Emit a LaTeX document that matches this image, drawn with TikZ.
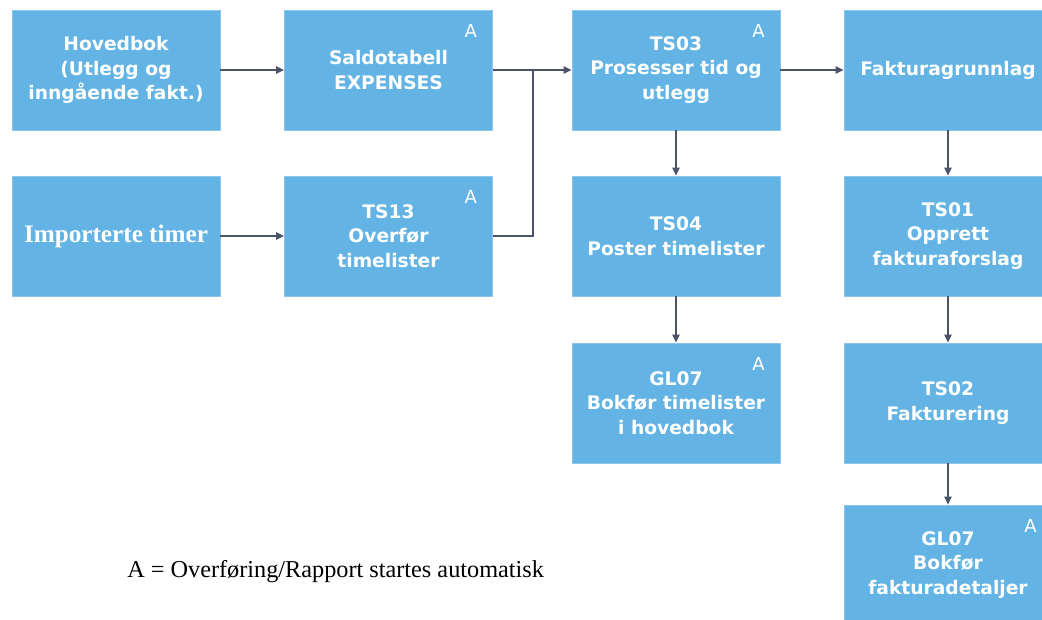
\documentclass[tikz,border=0pt]{standalone}
\usepackage{fontspec}
\setmainfont{DejaVu Sans}
\newfontfamily\timesfont{Liberation Serif}
\usetikzlibrary{arrows.meta}
\definecolor{boxblue}{RGB}{99,180,228}
\definecolor{linkgray}{RGB}{74,84,102}

\begin{document}
\begin{tikzpicture}[x=0.75pt,y=-0.75pt,
  proc/.style={rectangle, fill=boxblue, draw=boxblue!75!white, line width=0.6pt,
    minimum width=156pt, minimum height=90pt, inner sep=0pt, align=center,
    text=white, font=\fontsize{14}{18.4}\selectfont\bfseries},
  autotag/.style={text=white, inner sep=0pt, font=\fontsize{13.5}{15}\selectfont},
  link/.style={draw=linkgray, line width=1.1pt},
  flow/.style={link, -{Triangle[length=6pt,width=5.5pt]}}]

\useasboundingbox (0,0) rectangle (1042,619);
\clip (0,0) rectangle (1042,619);

% column 1
\node[proc] (hov) at (116,70) {Hovedbok\\(Utlegg og\\inngående fakt.)};
\node[proc, font=\timesfont\bfseries\fontsize{18.9}{22}\selectfont] (imp) at (116,236) {Importerte timer};

% column 2
\node[proc] (sal) at (388.5,70) {Saldotabell\\EXPENSES};
\node[proc] (ts13) at (388.5,236) {TS13\\Overfør\\timelister};

% column 3
\node[proc] (ts03) at (676,70) {TS03\\Prosesser tid og\\utlegg};
\node[proc] (ts04) at (676,236) {TS04\\Poster timelister};
\node[proc] (gl07a) at (676,403) {GL07\\Bokfør timelister\\i hovedbok};

% column 4
\node[proc] (fak) at (948,70) {Fakturagrunnlag};
\node[proc] (ts01) at (948,236) {TS01\\Opprett\\fakturaforslag};
\node[proc] (ts02) at (948,403) {TS02\\Fakturering};
\node[proc] (gl07b) at (948,565) {GL07\\Bokfør\\fakturadetaljer};

% automatic-start markers
\foreach \b in {sal,ts13,ts03,gl07a,gl07b}
  \node[autotag] (tag-\b) at ([shift={(-22,21.5)}]\b.north east) {A};

% connectors
\coordinate (merge) at (533,70);
\draw[flow] (hov) -- (sal);
\draw[flow] (imp) -- (ts13);
\draw[link] (sal.east) -- (merge);
\draw[link] (ts13.east) -| (merge);
\draw[flow] (merge) -- (ts03.west);
\draw[flow] (ts03) -- (fak);
\draw[flow] (ts03) -- (ts04);
\draw[flow] (ts04) -- (gl07a);
\draw[flow] (fak) -- (ts01);
\draw[flow] (ts01) -- (ts02);
\draw[flow] (ts02) -- (gl07b);

% legend
\node[anchor=west, inner sep=0pt, font=\timesfont\fontsize{18.2}{21}\selectfont] (legend) at (127,572)
  {A = Overføring/Rapport startes automatisk};
\end{tikzpicture}
\end{document}
